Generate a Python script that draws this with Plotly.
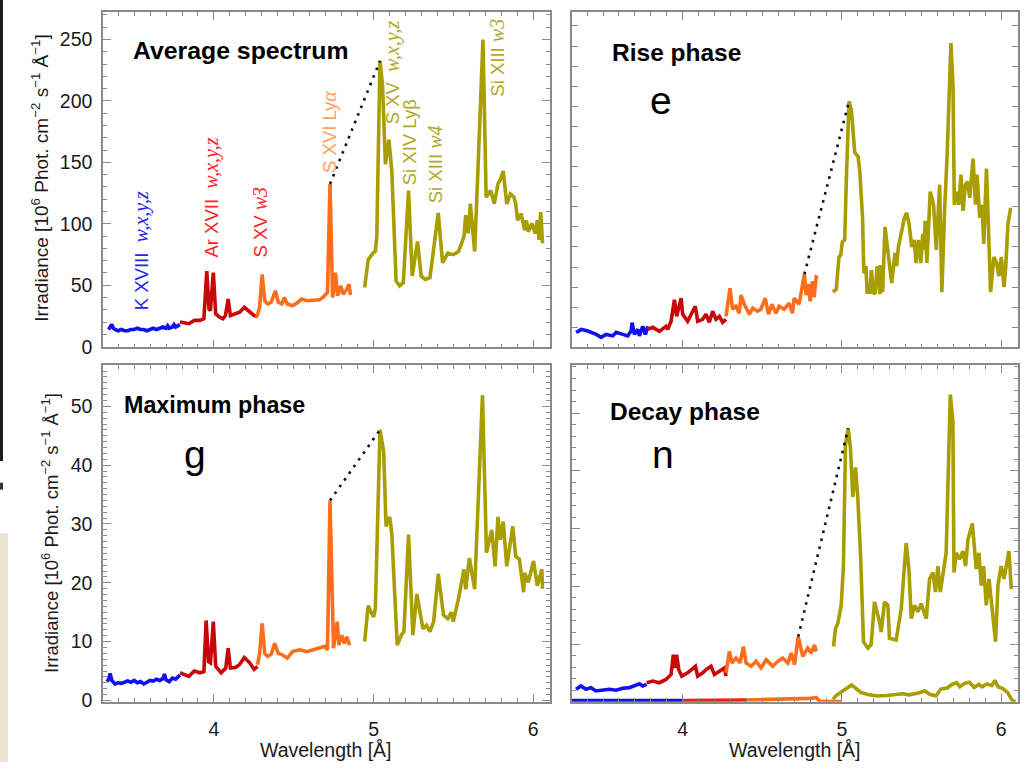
import plotly.graph_objects as go
import numpy as np

W, H = 1029, 772

# ---------------- Wavelength [Å] / Irradiance data ----------------
# Average spectrum
avg_blue_x = [3.34, 3.35, 3.36, 3.37, 3.38, 3.40, 3.42, 3.44, 3.46, 3.48, 3.50, 3.52, 3.54, 3.56, 3.58, 3.60,
              3.62, 3.64, 3.66, 3.68, 3.70, 3.71, 3.72, 3.74, 3.75, 3.76, 3.787]
avg_blue_y = [14, 16, 18, 15, 14, 13, 14, 13, 13, 14, 14, 15, 14, 14, 13, 14,
              15, 14, 15, 16, 15, 17, 15, 16, 18, 16, 18]
avg_red_x = [3.787, 3.843, 3.877, 3.911, 3.937, 3.955, 3.969, 3.978, 3.996, 4.011, 4.034, 4.056, 4.072, 4.089,
             4.103, 4.134, 4.161, 4.19, 4.224, 4.251, 4.273]
avg_red_y = [20.1, 18.7, 21.4, 21.4, 22.7, 61.5, 30.7, 29.4, 60.2, 26.7, 24.1, 22.7, 25.4, 38.8,
             25.4, 26.7, 28.1, 32.1, 28.1, 25.4, 24.9]
avg_orange_x = [4.268, 4.286, 4.302, 4.318, 4.336, 4.358, 4.385, 4.403, 4.425, 4.441, 4.459, 4.492, 4.526, 4.548,
                4.582, 4.626, 4.66, 4.682, 4.698, 4.711, 4.727, 4.743, 4.761, 4.774, 4.794, 4.81, 4.832, 4.846, 4.855]
avg_orange_y = [24.1, 32.1, 58.8, 37.4, 34.8, 36.1, 45.5, 36.1, 34.8, 40.1, 34.8, 33.4, 36.1, 38.8,
                37.4, 38.2, 38.2, 40.1, 42.8, 44.1, 132.4, 40.1, 60.2, 41.4, 49.5, 42.8, 46.8, 50.8, 42.0]
avg_olive_x = [4.944, 4.966, 4.996, 5.011, 5.02, 5.04, 5.056, 5.074, 5.096, 5.114, 5.141, 5.163, 5.186, 5.219,
               5.242, 5.275, 5.298, 5.324, 5.353, 5.405, 5.432, 5.465, 5.499, 5.532, 5.555, 5.566, 5.577, 5.593,
               5.606, 5.633, 5.655, 5.685, 5.705, 5.734, 5.756, 5.779, 5.796, 5.812, 5.834, 5.857, 5.879, 5.89,
               5.902, 5.924, 5.946, 5.957, 5.969, 5.991, 6.013, 6.025, 6.036, 6.047, 6.058]
avg_olive_y = [48.1, 70.9, 76.2, 77.5, 90.0, 232.6, 212.6, 148.4, 168.4, 143.0, 53.5, 49.5, 52.1, 127.0,
               57.5, 85.6, 57.5, 54.8, 56.1, 108.8, 68.2, 76.2, 74.9, 77.5, 85.6, 89.6, 107.0, 92.2,
               116.3, 77.5, 148.4, 250.0, 121.7, 127.0, 116.3, 132.4, 136.4, 143.0, 116.3, 124.3, 121.7, 116.3,
               102.9, 108.3, 94.9, 102.9, 93.6, 100.3, 92.2, 102.9, 86.9, 109.6, 84.2]

# Rise phase
rise_blue_x = [3.331, 3.363, 3.404, 3.457, 3.488, 3.519, 3.561, 3.582, 3.624, 3.655, 3.676, 3.682, 3.697, 3.718,
               3.728, 3.749, 3.766, 3.781]
rise_blue_y = [1.48, 1.8, 1.64, 1.3, 1.0, 1.3, 1.15, 1.5, 1.3, 1.15, 1.64, 2.46, 1.3, 1.8,
               1.15, 2.1, 1.3, 2.1]
rise_red_x = [3.781, 3.812, 3.854, 3.895, 3.906, 3.927, 3.948, 3.962, 3.99, 4.0, 4.031, 4.079, 4.094, 4.125,
              4.146, 4.167, 4.188, 4.209, 4.23, 4.251, 4.272]
rise_red_y = [1.8, 2.0, 1.6, 2.1, 1.8, 2.6, 4.75, 3.1, 4.9, 3.3, 2.6, 4.1, 2.6, 2.8,
              3.3, 2.5, 3.6, 2.8, 3.1, 2.5, 2.8]
rise_orange_x = [4.272, 4.297, 4.313, 4.334, 4.355, 4.366, 4.387, 4.418, 4.439, 4.47, 4.491, 4.518, 4.539, 4.56,
                 4.585, 4.606, 4.637, 4.669, 4.689, 4.7, 4.731, 4.745, 4.764, 4.775, 4.79, 4.80, 4.815, 4.825,
                 4.838, 4.848]
rise_orange_y = [3.1, 5.9, 3.8, 4.1, 3.4, 5.2, 4.3, 3.3, 3.9, 3.6, 3.8, 4.9, 3.3, 4.3,
                 3.4, 4.1, 3.8, 4.4, 3.4, 4.9, 4.3, 5.6, 7.3, 5.2, 6.3, 4.6, 6.6, 5.0,
                 7.0, 6.9]
rise_olive_x = [4.943, 4.964, 4.981, 4.992, 5.002, 5.017, 5.027, 5.044, 5.059, 5.08, 5.101, 5.112, 5.129, 5.137,
                5.150, 5.158, 5.175, 5.185, 5.196, 5.207, 5.221, 5.238, 5.242, 5.255, 5.27, 5.285, 5.297, 5.312,
                5.333, 5.343, 5.354, 5.375, 5.392, 5.406, 5.421, 5.438, 5.453, 5.465, 5.48, 5.495, 5.507, 5.516,
                5.522, 5.533, 5.554, 5.575, 5.586, 5.592, 5.613, 5.627, 5.644, 5.66, 5.684, 5.697, 5.705, 5.722,
                5.733, 5.747, 5.76, 5.775, 5.789, 5.802, 5.823, 5.838, 5.848, 5.865, 5.88, 5.89, 5.907, 5.922,
                5.933, 5.954, 5.971, 5.985, 6.0, 6.017, 6.027, 6.042, 6.059]
rise_olive_y = [5.5, 5.8, 9.0, 9.2, 10.5, 10.7, 16.5, 24.5, 23.6, 19.4, 19.0, 17.5, 12.9, 7.4,
                8.1, 5.5, 5.5, 7.7, 5.5, 5.3, 8.1, 5.3, 8.2, 5.5, 12.0, 9.7, 8.1, 6.4,
                9.4, 8.1, 10.0, 11.6, 12.9, 13.4, 12.3, 10.0, 10.7, 8.4, 10.7, 8.4, 11.3, 9.7,
                12.6, 8.4, 15.5, 14.2, 11.6, 9.7, 16.2, 5.5, 13.6, 19.1, 30.3, 26.0, 14.2, 15.5,
                14.2, 17.2, 13.6, 16.2, 16.5, 14.9, 18.8, 14.2, 17.2, 12.9, 14.2, 10.3, 17.8, 11.6,
                5.5, 9.0, 8.4, 7.1, 9.0, 6.0, 7.8, 12.3, 13.9]

# Maximum phase
max_blue_x = [3.33, 3.34, 3.35, 3.36, 3.38, 3.40, 3.42, 3.44, 3.46, 3.48, 3.50, 3.52, 3.54, 3.56, 3.58, 3.60,
              3.62, 3.64, 3.66, 3.68, 3.69, 3.70, 3.72, 3.74, 3.76, 3.787]
max_blue_y = [3.2, 3.6, 4.6, 3.4, 2.8, 3.0, 2.9, 3.1, 3.3, 3.1, 3.4, 3.0, 3.2, 2.8, 3.1, 3.4,
              3.3, 3.6, 3.4, 3.7, 4.5, 3.5, 3.2, 3.8, 3.6, 4.3]
max_red_x = [3.787, 3.843, 3.877, 3.911, 3.937, 3.951, 3.966, 3.978, 3.996, 4.011, 4.045, 4.074, 4.089, 4.103,
             4.134, 4.161, 4.19, 4.224, 4.251, 4.273]
max_red_y = [4.7, 4.1, 5.0, 4.7, 4.9, 13.6, 6.6, 6.4, 13.4, 5.8, 4.7, 5.5, 8.9, 5.5,
             5.6, 6.1, 7.3, 6.4, 5.3, 5.8]
max_orange_x = [4.273, 4.286, 4.302, 4.318, 4.336, 4.358, 4.38, 4.403, 4.425, 4.459, 4.492, 4.537, 4.582, 4.626,
                4.671, 4.694, 4.711, 4.727, 4.749, 4.772, 4.783, 4.799, 4.817, 4.832, 4.85]
max_orange_y = [6.1, 8.0, 13.1, 8.0, 7.5, 7.8, 9.7, 8.0, 7.8, 7.2, 8.3, 8.6, 8.3, 8.6,
                8.9, 9.2, 8.6, 34.0, 8.9, 13.4, 9.4, 11.1, 9.7, 10.8, 9.4]
max_olive_x = [4.944, 4.966, 4.984, 5.0, 5.011, 5.04, 5.063, 5.078, 5.101, 5.114, 5.148, 5.174, 5.19, 5.219,
               5.246, 5.271, 5.309, 5.331, 5.353, 5.376, 5.405, 5.438, 5.465, 5.488, 5.499, 5.532, 5.566, 5.577,
               5.6, 5.633, 5.682, 5.707, 5.74, 5.761, 5.779, 5.794, 5.812, 5.834, 5.872, 5.89, 5.913, 5.94,
               5.946, 5.969, 6.002, 6.025, 6.054, 6.058]
max_olive_y = [10.0, 16.1, 15.0, 14.2, 15.6, 46.0, 42.4, 29.6, 31.2, 28.4, 9.4, 11.1, 11.7, 28.2,
               11.1, 18.1, 12.2, 12.8, 11.7, 13.4, 21.5, 14.5, 13.9, 15.0, 13.4, 17.3, 22.3, 18.9,
               24.2, 18.9, 51.9, 25.1, 29.0, 22.8, 31.2, 27.3, 30.4, 22.8, 29.6, 24.5, 24.0, 18.4,
               21.7, 20.1, 23.7, 19.5, 22.3, 19.0]

# Decay phase
dec_blue_x = [3.330, 3.361, 3.393, 3.424, 3.455, 3.497, 3.539, 3.581, 3.623, 3.665, 3.696, 3.728, 3.749, 3.774]
dec_blue_y = [2.17, 2.74, 2.17, 2.45, 1.88, 2.0, 2.17, 2.0, 2.34, 2.45, 2.74, 3.13, 2.74, 3.02]
dec_red_x = [3.774, 3.812, 3.853, 3.895, 3.927, 3.941, 3.954, 3.962, 3.975, 3.994, 4.031, 4.08, 4.094, 4.126,
             4.147, 4.178, 4.199, 4.23, 4.262, 4.272]
dec_red_y = [3.3, 3.59, 3.3, 3.87, 4.73, 8.15, 5.87, 8.15, 5.58, 4.44, 5.01, 6.15, 4.44, 5.01,
             5.58, 6.15, 4.73, 5.3, 5.87, 4.44]
dec_orange_x = [4.272, 4.293, 4.31, 4.335, 4.36, 4.381, 4.398, 4.429, 4.461, 4.492, 4.524, 4.565, 4.597, 4.628,
                4.66, 4.681, 4.702, 4.725, 4.754, 4.785, 4.806, 4.827, 4.838]
dec_orange_y = [5.01, 8.72, 6.72, 7.58, 6.72, 9.57, 6.72, 6.15, 7.01, 5.87, 7.29, 6.15, 7.01, 7.58,
                6.72, 8.43, 6.44, 11.28, 7.86, 9.29, 8.43, 9.86, 8.72]
dec_olive_x = [4.947, 4.959, 4.974, 4.995, 5.009, 5.022, 5.039, 5.053, 5.068, 5.085, 5.099, 5.116, 5.135, 5.162,
               5.183, 5.204, 5.236, 5.246, 5.267, 5.288, 5.298, 5.340, 5.372, 5.403, 5.42, 5.435, 5.455, 5.476,
               5.497, 5.529, 5.55, 5.571, 5.587, 5.602, 5.617, 5.654, 5.68, 5.696, 5.703, 5.717, 5.738, 5.759,
               5.776, 5.791, 5.818, 5.843, 5.86, 5.874, 5.889, 5.906, 5.923, 5.948, 5.964, 5.979, 5.999, 6.017,
               6.048, 6.063]
dec_olive_y = [9.57, 12.7, 13.6, 16.7, 23.5, 44.6, 47.35, 44.0, 35.5, 40.6, 35.5, 25.8, 10.4, 9.3,
               9.9, 17.3, 13.8, 12.1, 17.3, 16.7, 11.0, 10.7, 16.1, 27.5, 23.0, 14.4, 16.7, 15.6,
               17.0, 14.4, 21.3, 22.4, 19.0, 23.5, 19.0, 25.8, 53.2, 48.6, 22.4, 25.8, 24.7, 26.1,
               23.5, 28.1, 30.9, 23.0, 25.8, 20.1, 23.5, 16.7, 21.3, 14.4, 10.4, 20.1, 23.5, 21.3,
               26.1, 19.5]
# Decay phase: low-level (background) spectrum
dec_bg_blue_x = [3.305, 3.45, 3.6, 3.75, 3.9, 4.0]
dec_bg_blue_y = [0.2, 0.2, 0.2, 0.2, 0.2, 0.2]
dec_bg_red_x = [4.0, 4.1, 4.2, 4.3, 4.4]
dec_bg_red_y = [0.2, 0.2, 0.25, 0.25, 0.3]
dec_bg_orange_x = [4.4, 4.5, 4.6, 4.7, 4.8, 4.84, 4.86, 4.9, 5.0]
dec_bg_orange_y = [0.3, 0.35, 0.4, 0.45, 0.6, 0.7, 0.1, 0.05, 0.05]
dec_bg_olive_x = [4.943, 4.96, 5.0, 5.04, 5.06, 5.08, 5.12, 5.17, 5.22, 5.28, 5.34, 5.38, 5.42, 5.48, 5.52,
                  5.55, 5.59, 5.62, 5.66, 5.69, 5.72, 5.74, 5.77, 5.8, 5.83, 5.86, 5.88, 5.91, 5.94, 5.96,
                  5.98, 6.01, 6.04, 6.07, 6.09]
dec_bg_olive_y = [0.4, 1.0, 1.8, 2.6, 2.9, 2.5, 1.6, 1.2, 1.0, 1.1, 1.2, 1.4, 1.2, 1.5, 1.9,
                  1.3, 1.0, 2.2, 2.4, 3.0, 3.3, 2.6, 3.2, 3.4, 2.5, 3.0, 2.6, 3.1, 2.8, 3.7,
                  2.6, 2.3, 1.6, 0.2, 0.0]

# ---------------- styling ----------------
BLUE = "#1010f0"
RED = "#c80808"
ORANGE = "#ff6c1c"
OLIVE = "#a89e00"
GREY = "#8a8a8a"
FONT = "Liberation Sans"
SERIF = "Liberation Serif"
LW = 3.6

fig = go.Figure()

panels = [
    ("x", "y", [(avg_blue_x, avg_blue_y, BLUE), (avg_red_x, avg_red_y, RED),
                (avg_orange_x, avg_orange_y, ORANGE), (avg_olive_x, avg_olive_y, OLIVE)]),
    ("x2", "y2", [(rise_blue_x, rise_blue_y, BLUE), (rise_red_x, rise_red_y, RED),
                  (rise_orange_x, rise_orange_y, ORANGE), (rise_olive_x, rise_olive_y, OLIVE)]),
    ("x3", "y3", [(max_blue_x, max_blue_y, BLUE), (max_red_x, max_red_y, RED),
                  (max_orange_x, max_orange_y, ORANGE), (max_olive_x, max_olive_y, OLIVE)]),
    ("x4", "y4", [(dec_blue_x, dec_blue_y, BLUE), (dec_red_x, dec_red_y, RED),
                  (dec_orange_x, dec_orange_y, ORANGE), (dec_olive_x, dec_olive_y, OLIVE)]),
]

# decay background first (drawn beneath)
for bx, by, col in [(dec_bg_blue_x, dec_bg_blue_y, BLUE), (dec_bg_red_x, dec_bg_red_y, "#ff1a1a"),
                    (dec_bg_orange_x, dec_bg_orange_y, ORANGE), (dec_bg_olive_x, dec_bg_olive_y, OLIVE)]:
    fig.add_trace(go.Scatter(x=bx, y=by, xaxis="x4", yaxis="y4", mode="lines",
                             line=dict(color=col, width=LW), hoverinfo="skip", showlegend=False))

for xa, ya, segs in panels:
    for sx, sy, col in segs:
        fig.add_trace(go.Scatter(x=sx, y=sy, xaxis=xa, yaxis=ya, mode="lines",
                                 line=dict(color=col, width=LW),
                                 hoverinfo="skip", showlegend=False))
    # dotted connector: S XVI Ly-alpha region max -> S XV peak
    ox, oy = np.array(segs[2][0]), np.array(segs[2][1])
    m = ox < 4.8
    i0 = np.argmax(np.where(m, oy, -1))
    gx, gy = np.array(segs[3][0]), np.array(segs[3][1])
    mg = gx < 5.2
    i1 = np.argmax(np.where(mg, gy, -1))
    fig.add_trace(go.Scatter(x=[ox[i0], gx[i1]], y=[oy[i0], gy[i1]], xaxis=xa, yaxis=ya, mode="lines",
                             line=dict(color="#111111", width=2.6, dash="2.6px,5.6px"),
                             hoverinfo="skip", showlegend=False))

def px_x(p):
    return p / W

def px_y(p):
    return 1 - p / H

def xax(dom, labels):
    return dict(domain=dom, range=[3.305, 6.105], showline=True, linecolor=GREY, linewidth=1.5,
                mirror="allticks", ticks="inside", ticklen=8, tickwidth=1.3, tickcolor=GREY,
                tick0=0, dtick=1, showticklabels=labels, showgrid=False, zeroline=False,
                tickfont=dict(family=FONT, size=19.5, color="#1a1a1a"), ticklabelstandoff=9,
                minor=dict(ticks="inside", ticklen=4, tickcolor=GREY, tickwidth=1, tick0=0, dtick=0.1,
                           showgrid=False))

def yax(dom, rng, dt, mdt, labels):
    d = dict(domain=dom, range=rng, showline=True, linecolor=GREY, linewidth=1.5,
             mirror="allticks", ticks="inside", ticklen=8, tickwidth=1.3, tickcolor=GREY,
             tick0=0, dtick=dt, showticklabels=labels, showgrid=False, zeroline=False,
             tickfont=dict(family=FONT, size=19.5, color="#1a1a1a"), ticklabelstandoff=5)
    if mdt:
        d["minor"] = dict(ticks="inside", ticklen=4, tickcolor=GREY, tickwidth=1, tick0=0, dtick=mdt,
                          showgrid=False)
    else:
        d["ticklen"] = 6
    return d

top_dom = [px_y(352), px_y(12)]
bot_dom = [px_y(711), px_y(370)]
left_dom = [px_x(103), px_x(550)]
right_dom = [px_x(572), px_x(1018)]

layout = dict(
    width=W, height=H, margin=dict(l=0, r=0, t=0, b=0),
    paper_bgcolor="white", plot_bgcolor="white",
    font=dict(family=FONT, color="#1a1a1a"),
    showlegend=False,
    xaxis=xax(left_dom, False), yaxis=yax(top_dom, [-0.6, 272.5], 50, 10, True),
    xaxis2=xax(right_dom, False), yaxis2=yax(top_dom, [0, 33.4], 2, None, False),
    xaxis3=xax(left_dom, True), yaxis3=yax(bot_dom, [-0.23, 57.0], 10, 1, True),
    xaxis4=xax(right_dom, True), yaxis4=yax(bot_dom, [0, 58.3], 10, 2, False),
)
for i, s in enumerate(["", "2", "3", "4"]):
    layout["xaxis" + s]["anchor"] = "y" + s
    layout["yaxis" + s]["anchor"] = "x" + s
fig.update_layout(**layout)

ann = []
# panel titles
for txt, xp, yp, fs in [("Average spectrum", 131, 51, 24.8), ("Rise phase", 610, 53, 24.5),
                        ("Maximum phase", 122, 410, 23.3), ("Decay phase", 608, 417, 24.5)]:
    ann.append(dict(text="<b>" + txt + "</b>", x=px_x(xp), y=px_y(yp), xref="paper", yref="paper",
                    xanchor="left", yanchor="middle", showarrow=False,
                    font=dict(family=FONT, size=fs, color="black")))
# phase letters
for txt, xp, yp in [("e", 661, 102), ("g", 195, 460), ("n", 663, 460)]:
    ann.append(dict(text=txt, x=px_x(xp), y=px_y(yp), xref="paper", yref="paper",
                    xanchor="center", yanchor="middle", showarrow=False,
                    font=dict(family=FONT, size=39, color="black")))

YT = "Irradiance [10<sup>6</sup> Phot. cm<sup>−2</sup> s<sup>−1</sup> Å<sup>−1</sup>]"
ann.append(dict(text=YT, x=px_x(40), y=px_y(181), xref="paper", yref="paper", textangle=-90,
                xanchor="center", yanchor="middle", showarrow=False,
                font=dict(family=FONT, size=19, color="#1a1a1a")))
ann.append(dict(text=YT, x=px_x(50), y=px_y(540), xref="paper", yref="paper", textangle=-90,
                xanchor="center", yanchor="middle", showarrow=False,
                font=dict(family=FONT, size=18.5, color="#1a1a1a")))
for xc in [326, 795]:
    ann.append(dict(text="Wavelength [Å]", x=px_x(xc), y=px_y(760), xref="paper", yref="paper",
                    xanchor="center", yanchor="middle", showarrow=False,
                    font=dict(family=FONT, size=19.5, color="#1a1a1a")))

def it(s):
    return "<i><span style='font-family:" + SERIF + ";font-size:20px'>" + s + "</span></i>"

line_labels = [
    ("K XVIII  " + it("w,x,y,z"), 3.546, 28, "#2626f2"),
    ("Ar XVII  " + it("w,x,y,z"), 3.982, 71, "#ff2424"),
    ("S XV " + it("w3"), 4.286, 71, "#ff2424"),
    ("S XVI Ly" + it("α"), 4.716, 140, "#ffa25c"),
    ("S XV  " + it("w,x,y,z"), 5.119, 179, "#b0a826"),
    ("Si XIV Lyβ", 5.23, 130, "#b0a826"),
    ("Si XIII " + it("w4"), 5.39, 115, "#b0a826"),
    ("Si XIII " + it("w3"), 5.774, 202, "#b0a826"),
]
for txt, xd, yd, col in line_labels:
    ann.append(dict(text=txt, x=xd, y=yd, xref="x", yref="y", textangle=-90,
                    xanchor="center", yanchor="bottom", showarrow=False,
                    font=dict(family=FONT, size=18.5, color=col)))
fig.update_layout(annotations=ann)

# left-edge page fragments
shapes = [
    dict(type="rect", xref="paper", yref="paper", x0=0, x1=px_x(3), y0=px_y(467), y1=1,
         fillcolor="#1e1e1e", line=dict(width=0)),
    dict(type="rect", xref="paper", yref="paper", x0=0, x1=px_x(3), y0=px_y(496), y1=px_y(489),
         fillcolor="#333333", line=dict(width=0)),
    dict(type="rect", xref="paper", yref="paper", x0=0, x1=px_x(8), y0=0, y1=px_y(540),
         fillcolor="#ece4d2", line=dict(width=0)),
]
fig.update_layout(shapes=shapes)

fig.write_html("out.html", config={"displayModeBar": False})
